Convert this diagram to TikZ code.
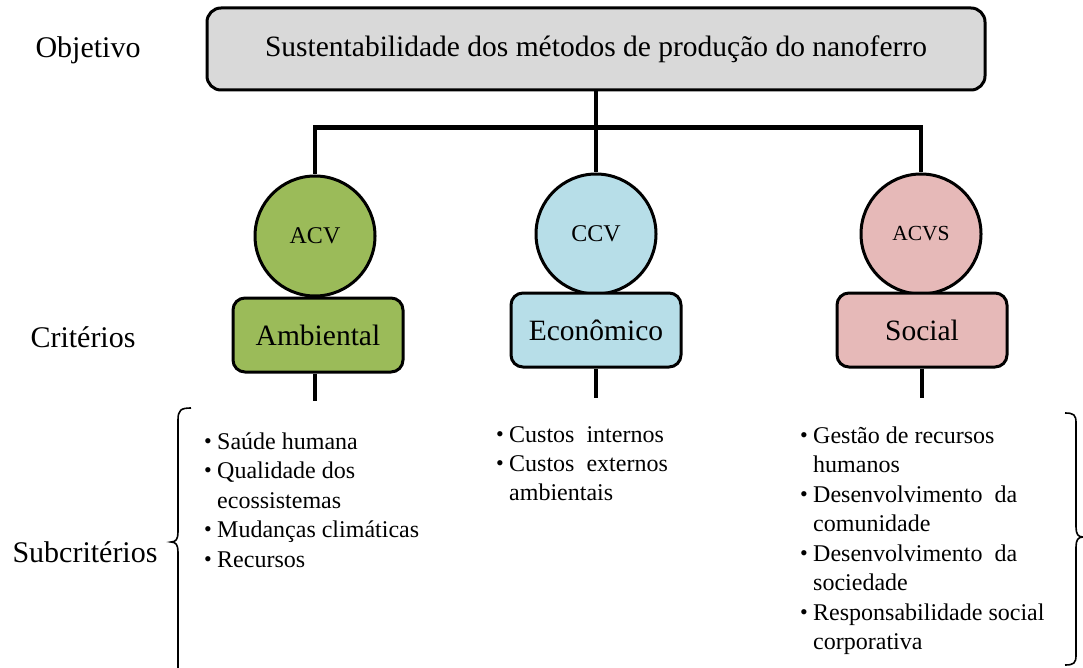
\documentclass[tikz,border=0pt]{standalone}
\usepackage{fontspec}
\setmainfont{Liberation Serif}
\newcommand\fs[1]{\fontsize{#1}{#1}\selectfont}
\newcommand\bul{\makebox[12pt][l]{\hspace*{-1pt}\fs{22}\raisebox{1pt}{•}}}
\newcommand\ind{\hspace*{12pt}}
\definecolor{cgreen}{HTML}{9BBB59}
\definecolor{cblue}{HTML}{B7DEE8}
\definecolor{cpink}{HTML}{E6B9B8}
\definecolor{cgrey}{HTML}{D9D9D9}
\tikzset{
  conn/.style={line width=4pt},
  bar/.style={line width=5pt},
  brace/.style={line width=1.6pt},
  objbox/.style={draw, line width=3pt, rounded corners=14pt, fill=cgrey, minimum width=778pt, minimum height=82pt, font=\fs{29.5}},
  critbox/.style={draw, line width=3pt, rounded corners=12pt, minimum width=170pt, minimum height=74pt, font=\fs{29.5}},
  method/.style={draw, circle, line width=3pt, minimum size=120pt, inner sep=0pt, font=\fs{24}},
  lvl/.style={font=\fs{30}, inner sep=0pt},
  item/.style={anchor=base west, inner sep=0pt, font=\fs{24}},
}
\begin{document}
\begin{tikzpicture}[x=1pt,y=-1pt]
\useasboundingbox (0,0) rectangle (1083,668);
% level labels
\node[lvl] (lobj) at (88,50) {Objetivo};
\node[lvl] (lcrit) at (83,337) {Critérios};
\node[lvl] (lsub) at (85,552) {Subcritérios};
% objective
\node[objbox] (obj) at (596,49) {Sustentabilidade dos métodos de produção do nanoferro};
% methods
\node[method, fill=cgreen] (acv) at (315,236) {ACV};
\node[method, fill=cblue] (ccv) at (596,234) {CCV};
\node[method, fill=cpink, font=\fs{21.5}] (acvs) at (921,234) {ACVS};
% criteria
\node[critbox, fill=cgreen] (amb) at (318,335) {Ambiental};
\node[critbox, fill=cblue] (eco) at (596,330) {Econômico};
\node[critbox, fill=cpink] (soc) at (922,330) {Social};
% connectors
\coordinate (bl) at (315,128);
\coordinate (br) at (921,128);
\draw[conn] (obj.south) -- (ccv.north);
\draw[bar] ([xshift=-2pt]bl) -- ([xshift=2pt]br);
\draw[conn] (bl) -- (acv.north);
\draw[conn] (br) -- (acvs.north);
\coordinate (ea) at (315,401);
\coordinate (ee) at (596,398);
\coordinate (es) at (922,398);
\draw[conn] (amb.south -| ea) -- (ea);
\draw[conn] (eco.south) -- (ee);
\draw[conn] (soc.south -| es) -- (es);
% braces
\draw[brace] (191,408) .. controls (181,408) and (178,410) .. (178,420) -- (178,532) .. controls (178,539) and (176,542) .. (171,542) .. controls (176,542) and (178,545) .. (178,552) -- (178,672);
\draw[brace] (1065,413) .. controls (1074,413) and (1076,415) .. (1076,423) -- (1076,527) .. controls (1076,534) and (1078,537) .. (1083,537) .. controls (1078,537) and (1076,540) .. (1076,547) -- (1076,655) .. controls (1076,663) and (1074,665) .. (1065,665);
% environmental list
\node[item] (a1) at (205,449) {\bul Saúde humana};
\node[item] (a2) at (205,478.5) {\bul Qualidade dos};
\node[item] (a3) at (205,508) {\ind ecossistemas};
\node[item] (a4) at (205,537.5) {\bul Mudanças climáticas};
\node[item] (a5) at (205,567) {\bul Recursos};
% economic list
\node[item] (e1) at (497,442) {\bul Custos\ \ internos};
\node[item] (e2) at (497,471) {\bul Custos\ \ externos};
\node[item] (e3) at (497,500) {\ind ambientais};
% social list
\node[item] (s1) at (801,443) {\bul Gestão de recursos};
\node[item] (s2) at (801,472.5) {\ind humanos};
\node[item] (s3) at (801,502) {\bul Desenvolvimento\ \ da};
\node[item] (s4) at (801,531.5) {\ind comunidade};
\node[item] (s5) at (801,561) {\bul Desenvolvimento\ \ da};
\node[item] (s6) at (801,590.5) {\ind sociedade};
\node[item] (s7) at (801,620) {\bul Responsabilidade social};
\node[item] (s8) at (801,649.5) {\ind corporativa};
\end{tikzpicture}
\end{document}
